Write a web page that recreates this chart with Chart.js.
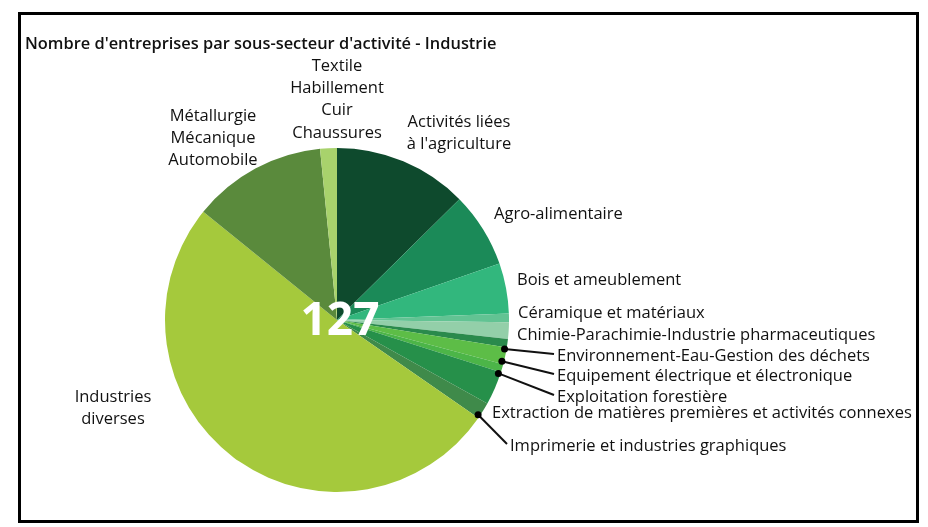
<!DOCTYPE html>
<html><head><meta charset="utf-8">
<script src="https://cdn.jsdelivr.net/npm/chart.js@4.4.1/dist/chart.umd.min.js"></script>
<style>html,body{margin:0;padding:0;background:#fff;}canvas{display:block;}</style>
</head><body>
<canvas id="c" width="928" height="527"></canvas>
<script>
const chartTitle = "Nombre d'entreprises par sous-secteur d'activité - Industrie";
const categories = [
  "Activités liées à l'agriculture",
  "Agro-alimentaire",
  "Bois et ameublement",
  "Céramique et matériaux",
  "Chimie-Parachimie-Industrie pharmaceutiques",
  "Environnement-Eau-Gestion des déchets",
  "Equipement électrique et électronique",
  "Exploitation forestière",
  "Extraction de matières premières et activités connexes",
  "Imprimerie et industries graphiques",
  "Industries diverses",
  "Métallurgie Mécanique Automobile",
  "Textile Habillement Cuir Chaussures"
];
const counts = [16, 9, 6, 1, 2, 1, 2, 1, 4, 2, 65, 16, 2];
const sliceColors = ['#0e4a2d','#1b8a58','#32b77d','#62c393','#93cfa9','#2a8a4c','#5dbd47','#4cb548','#26904a','#3f8a4a','#a5c93c','#5a8a3c','#a8d26c'];
const labelLines = [
  ["Activités liées", "à l'agriculture"],
  ["Agro-alimentaire"],
  ["Bois et ameublement"],
  ["Céramique et matériaux"],
  ["Chimie-Parachimie-Industrie pharmaceutiques"],
  ["Environnement-Eau-Gestion des déchets"],
  ["Equipement électrique et électronique"],
  ["Exploitation forestière"],
  ["Extraction de matières premières et activités connexes"],
  ["Imprimerie et industries graphiques"],
  ["Industries", "diverses"],
  ["Métallurgie", "Mécanique", "Automobile"],
  ["Textile", "Habillement", "Cuir", "Chaussures"]
];

// label placement (layout only)
const labelLayout = [
  {x:459, y:122, align:'center'},
  {x:494, y:214, align:'left'},
  {x:517, y:280, align:'left'},
  {x:518, y:313, align:'left'},
  {x:517, y:335, align:'left'},
  {x:557, y:356, align:'left', leader:true},
  {x:557, y:376, align:'left', leader:true},
  {x:557, y:397, align:'left', leader:true},
  {x:492, y:413, align:'left'},
  {x:510, y:446, align:'left', leader:true},
  {x:113, y:397, align:'center'},
  {x:213, y:116, align:'center'},
  {x:337, y:66, align:'center'}
];
const FONT = '"Open Sans", "DejaVu Sans", sans-serif';

const decor = {
  id: 'decor',
  beforeDraw(chart) {
    const ctx = chart.ctx;
    ctx.save();
    ctx.fillStyle = '#fff';
    ctx.fillRect(0, 0, chart.width, chart.height);
    ctx.restore();
  },
  afterDraw(chart) {
    const ctx = chart.ctx;
    const meta = chart.getDatasetMeta(0);
    ctx.save();
    // frame
    ctx.strokeStyle = '#000';
    ctx.lineWidth = 3;
    ctx.strokeRect(19.5, 13.5, 898, 508);
    // title
    ctx.fillStyle = '#111';
    ctx.font = '600 16.4px ' + FONT;
    ctx.textAlign = 'left';
    ctx.textBaseline = 'middle';
    ctx.fillText(chartTitle, 25, 44);
    // labels
    ctx.font = '500 16.5px ' + FONT;
    labelLines.forEach((lines, i) => {
      const L = labelLayout[i];
      ctx.textAlign = L.align;
      lines.forEach((t, k) => ctx.fillText(t, L.x, L.y + k * 22.3));
      if (L.leader) {
        const arc = meta.data[i];
        const a = (arc.startAngle + arc.endAngle) / 2 + 0.035;
        const r = arc.outerRadius - 2;
        const px = arc.x + Math.cos(a) * r, py = arc.y + Math.sin(a) * r;
        ctx.strokeStyle = '#111';
        ctx.lineWidth = 2;
        ctx.beginPath();
        ctx.moveTo(px, py);
        ctx.lineTo(L.x - 3, L.y - 2);
        ctx.stroke();
        ctx.fillStyle = '#000';
        ctx.beginPath();
        ctx.arc(px, py, 3.5, 0, Math.PI * 2);
        ctx.fill();
        ctx.fillStyle = '#111';
      }
    });
    // total in centre
    const total = counts.reduce((s, v) => s + v, 0);
    const arc0 = meta.data[0];
    ctx.fillStyle = '#fff';
    ctx.font = 'bold 46px ' + FONT;
    ctx.textAlign = 'center';
    ctx.textBaseline = 'middle';
    ctx.fillText(String(total), arc0.x + 3, arc0.y + 2);
    ctx.restore();
  }
};

new Chart(document.getElementById('c'), {
  type: 'pie',
  data: {
    labels: categories,
    datasets: [{ data: counts, backgroundColor: sliceColors, borderWidth: 0 }]
  },
  options: {
    responsive: false,
    animation: false,
    devicePixelRatio: 1,
    layout: { padding: { left: 165, right: 419, top: 148, bottom: 35 } },
    plugins: { legend: { display: false }, tooltip: { enabled: false }, title: { display: false } }
  },
  plugins: [decor]
});
</script>
</body></html>
